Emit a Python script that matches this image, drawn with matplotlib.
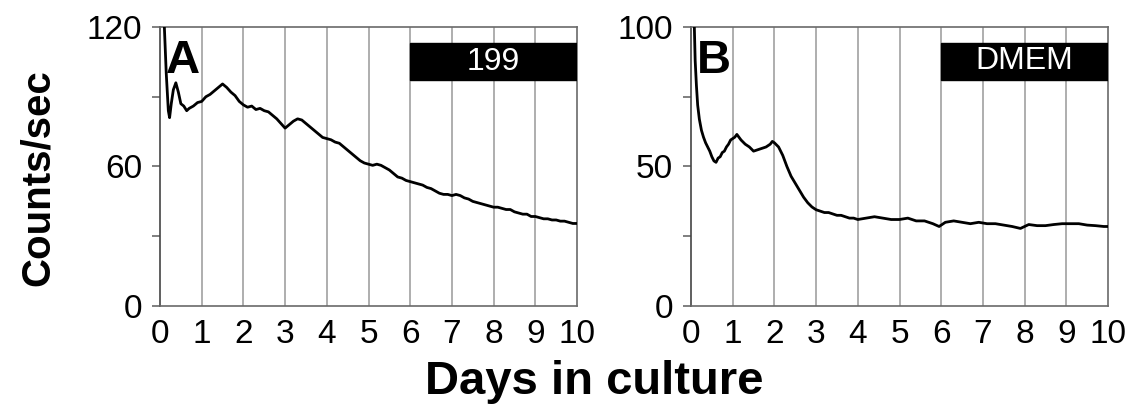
import matplotlib
matplotlib.use("Agg")
import matplotlib.pyplot as plt
from matplotlib.patches import Rectangle
from matplotlib.ticker import MultipleLocator

plt.rcParams['font.family'] = ['Liberation Sans', 'DejaVu Sans']

# ---- data ----
days_a = [0.05, 0.10, 0.15, 0.20, 0.23, 0.27, 0.32, 0.38, 0.44, 0.50, 0.57, 0.64, 0.70,
          0.8, 0.9, 1.0, 1.1, 1.2, 1.3, 1.4, 1.5, 1.6, 1.7, 1.8, 1.9, 2.0,
          2.1, 2.2, 2.3, 2.4, 2.5, 2.6, 2.7, 2.8, 2.9, 3.0,
          3.1, 3.2, 3.3, 3.4, 3.5, 3.6, 3.7, 3.8, 3.9, 4.0,
          4.1, 4.2, 4.3, 4.4, 4.5, 4.6, 4.7, 4.8, 4.9, 5.0,
          5.1, 5.2, 5.3, 5.4, 5.5, 5.6, 5.7, 5.8, 5.9, 6.0,
          6.1, 6.2, 6.3, 6.4, 6.5, 6.6, 6.7, 6.8, 6.9, 7.0,
          7.1, 7.2, 7.3, 7.4, 7.5, 7.6, 7.7, 7.8, 7.9, 8.0,
          8.1, 8.2, 8.3, 8.4, 8.5, 8.6, 8.7, 8.8, 8.9, 9.0,
          9.1, 9.2, 9.3, 9.4, 9.5, 9.6, 9.7, 9.8, 9.9, 10.0]
counts_a = [160, 122, 100, 84, 81, 87, 93, 96, 92, 87, 86, 84, 85,
            86, 87.5, 88, 90, 91, 92.5, 94, 95.5, 94, 92, 90.5, 88, 86.5,
            85.5, 86, 84.5, 85, 84, 83.5, 82, 80.5, 78.5, 76.5,
            78, 79.5, 80.5, 80, 78.5, 77, 75.5, 74, 72.5, 72,
            71.5, 70.5, 70, 68.5, 67, 65.5, 64, 62.5, 61.5, 61,
            60.5, 61, 60.5, 59.5, 58.5, 57, 55.5, 55, 54, 53.5,
            53, 52.5, 52, 51, 50.5, 49.5, 48.5, 48, 48, 47.5,
            48, 47.5, 46.5, 46, 45, 44.5, 44, 43.5, 43, 42.5,
            42.5, 42, 41.5, 41.5, 40.5, 40, 39.5, 39.5, 38.5, 38.5,
            38, 37.5, 37.5, 37, 37, 36.5, 36.5, 36, 35.5, 35.5]

days_b = [0.05, 0.08, 0.10, 0.13, 0.16, 0.20, 0.25, 0.30, 0.35, 0.40, 0.45, 0.50,
          0.55, 0.60, 0.65, 0.70, 0.75, 0.80, 0.85, 0.90, 0.95, 1.0, 1.05, 1.1,
          1.15, 1.2, 1.3, 1.4, 1.5, 1.6, 1.7, 1.8, 1.9, 1.95, 2.0,
          2.1, 2.2, 2.3, 2.4, 2.5, 2.6, 2.7, 2.8, 2.9, 3.0,
          3.1, 3.2, 3.3, 3.4, 3.5, 3.6, 3.7, 3.8, 3.9, 4.0,
          4.2, 4.4, 4.6, 4.8, 5.0, 5.2, 5.4, 5.6, 5.8, 5.95,
          6.1, 6.3, 6.5, 6.7, 6.9, 7.1, 7.3, 7.5, 7.7, 7.9,
          8.1, 8.3, 8.5, 8.7, 8.9, 9.1, 9.3, 9.5, 9.7, 9.9, 10.0]
counts_b = [130, 100, 88, 79, 72, 67, 63, 60.5, 58.5, 57, 55.5, 53.5,
            52, 51.5, 53, 53.5, 55, 55.5, 57, 58, 59.5, 60, 60.5, 61.5,
            60.5, 59.5, 58, 57, 55.5, 56, 56.5, 57, 58, 59, 58.5,
            57, 54, 50, 46.5, 44, 41.5, 39, 37, 35.5, 34.5,
            34, 33.5, 33.5, 33, 32.5, 32.5, 32, 31.5, 31.5, 31,
            31.5, 32, 31.5, 31, 31, 31.5, 30.5, 30.5, 29.5, 28.5,
            30, 30.5, 30, 29.5, 30, 29.5, 29.5, 29, 28.5, 27.8,
            29.2, 28.8, 28.8, 29.2, 29.5, 29.5, 29.5, 29, 28.8, 28.5, 28.5]

panel_letters = ['A', 'B']
medium_labels = ['199', 'DMEM']
y_max = [120, 100]
y_major = [60, 50]
x_ticks = list(range(0, 11))
box_days = (6, 10)
box_ranges = [(97.2, 113.1), (81.0, 94.3)]

# ---- figure ----
W, H = 1142, 415
fig = plt.figure(figsize=(W / 100, H / 100), dpi=100)
axes_px = [(160, 27, 417, 279), (691, 27, 417, 279)]

series = [(days_a, counts_a), (days_b, counts_b)]
spine_col = '#6a6a6a'
for i, (l, t, w, h) in enumerate(axes_px):
    ax = fig.add_axes([l / W, (H - t - h) / H, w / W, h / H])
    ax.set_xlim(0, 10)
    ax.set_ylim(0, y_max[i])
    for xv in x_ticks[1:-1]:
        ax.axvline(xv, color='#a8a8a8', lw=1.3, zorder=1)
    d, c = series[i]
    ax.plot(d, c, color='black', lw=2.0, zorder=3)
    ax.set_xticks(x_ticks)
    ax.set_yticks([0, y_major[i], y_max[i]])
    ax.yaxis.set_minor_locator(MultipleLocator(y_major[i] / 2))
    ax.tick_params(axis='x', length=0, pad=9, labelsize=24)
    ax.tick_params(axis='y', which='both', direction='out', length=6,
                   width=1.2, color=spine_col, pad=7, labelsize=24)
    for s in ax.spines.values():
        s.set_color(spine_col)
        s.set_linewidth(1.2)
    ax.spines['left'].set_color('#444444')
    lo, hi = box_ranges[i]
    ax.add_patch(Rectangle((box_days[0], lo), box_days[1] - box_days[0], hi - lo,
                           facecolor='black', edgecolor='black', zorder=4))
    ax.text((box_days[0] + box_days[1]) / 2, (lo + hi) / 2, medium_labels[i],
            color='white', fontsize=23, ha='center', va='center', zorder=5)
    # panel letter: baseline at pixel y=73
    ybase = y_max[i] * (306 - 73) / 279
    ax.text(0.15, ybase, panel_letters[i], fontsize=34, fontweight='bold',
            ha='left', va='baseline', zorder=5)

fig.text(38 / W, 1 - 178 / H, 'Counts/sec', rotation=90, fontsize=29,
         fontweight='bold', ha='center', va='center')
fig.text(594 / W, 1 - 382 / H, 'Days in culture', fontsize=34,
         fontweight='bold', ha='center', va='center')

fig.savefig('out.png', dpi=100)
